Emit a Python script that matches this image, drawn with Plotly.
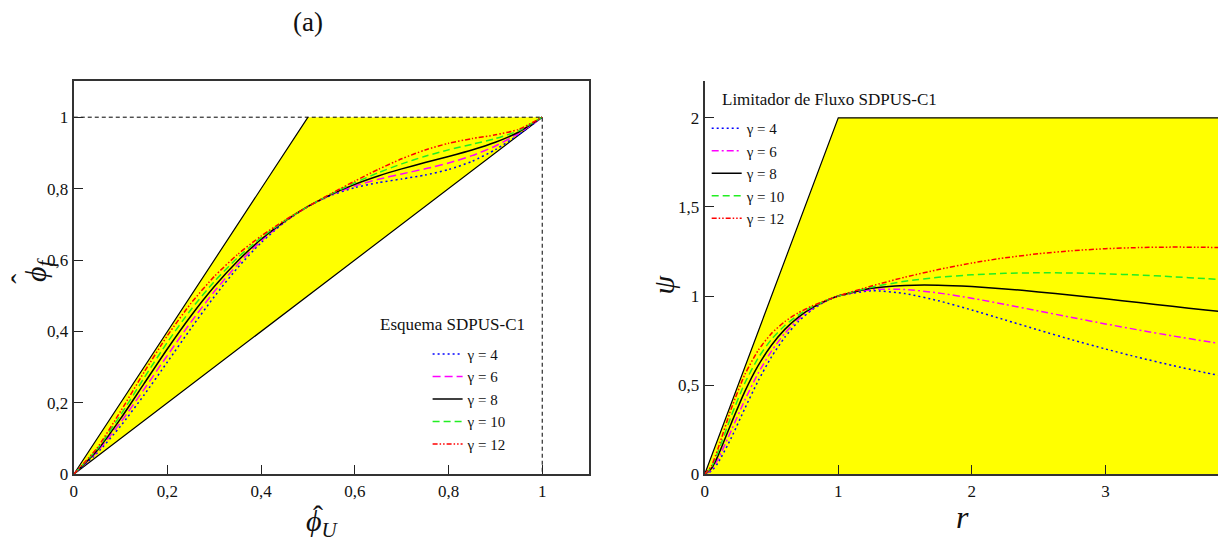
import plotly.graph_objects as go

# ---- Normalized variable diagram (left panel) ----
phi_u = [0.00, 0.05, 0.10, 0.15, 0.20, 0.25, 0.30, 0.35, 0.40, 0.45, 0.50,
         0.55, 0.60, 0.65, 0.70, 0.75, 0.80, 0.85, 0.90, 0.95, 1.00]

phi_f_g4 = [0.0, 0.05943, 0.13499, 0.22185, 0.31469, 0.40820, 0.49757, 0.57876, 0.64883, 0.70604, 0.75,
            0.78155, 0.80275, 0.81666, 0.82701, 0.83789, 0.85325, 0.87634, 0.90907, 0.95131, 1.0]
phi_f_g6 = [0.0, 0.06309, 0.14536, 0.23778, 0.33312, 0.42578, 0.51168, 0.58808, 0.65344, 0.70727, 0.75,
            0.78277, 0.80736, 0.82597, 0.84112, 0.85547, 0.87168, 0.89227, 0.91944, 0.95496, 1.0]
phi_f_g8 = [0.0, 0.06674, 0.15573, 0.25372, 0.35155, 0.44336, 0.52579, 0.59740, 0.65805, 0.70849, 0.75,
            0.78400, 0.81197, 0.83529, 0.85523, 0.87305, 0.89011, 0.90820, 0.92981, 0.95862, 1.0]
phi_f_g10 = [0.0, 0.07040, 0.16610, 0.26965, 0.36998, 0.46094, 0.53990, 0.60671, 0.66266, 0.70972, 0.75,
             0.78522, 0.81658, 0.84460, 0.86934, 0.89063, 0.90854, 0.92413, 0.94018, 0.96227, 1.0]
phi_f_g12 = [0.0, 0.07405, 0.17646, 0.28558, 0.38842, 0.47852, 0.55402, 0.61603, 0.66726, 0.71094, 0.75,
             0.78645, 0.82118, 0.85392, 0.88346, 0.90820, 0.92698, 0.94006, 0.95054, 0.96593, 1.0]

# TVD / CBC admissible region in the NVD plane
nvd_region_x = [0.0, 0.5, 1.0, 0.0]
nvd_region_y = [0.0, 1.0, 1.0, 0.0]

# ---- Flux limiter diagram (right panel) ----
r_vals = [0.0, 0.05, 0.1, 0.2, 0.3, 0.4, 0.5, 0.6, 0.7, 0.8, 0.9, 1.0,
          1.25, 1.5, 1.75, 2.0, 2.25, 2.5, 2.75, 3.0, 3.25, 3.5, 3.75, 4.0]

psi_g4 = [0.0, 0.01802, 0.06458, 0.20576, 0.36844, 0.52359, 0.65844, 0.76904, 0.85586, 0.92127, 0.96830, 1.0,
          1.02965, 1.01376, 0.97361, 0.92181, 0.86564, 0.80919, 0.75464, 0.70313, 0.65512, 0.61075, 0.56993, 0.53248]
psi_g6 = [0.0, 0.02509, 0.08469, 0.24691, 0.41595, 0.56643, 0.69136, 0.79102, 0.86829, 0.92669, 0.96961, 1.0,
          1.03643, 1.03680, 1.01742, 0.98765, 0.95291, 0.91628, 0.87956, 0.84375, 0.80938, 0.77671, 0.74585, 0.71680]
psi_g8 = [0.0, 0.03216, 0.10481, 0.28807, 0.46346, 0.60927, 0.72428, 0.81299, 0.88071, 0.93211, 0.97091, 1.0,
          1.04320, 1.05984, 1.06123, 1.05350, 1.04017, 1.02338, 1.00449, 0.98438, 0.96364, 0.94267, 0.92177, 0.90112]
psi_g10 = [0.0, 0.03923, 0.12493, 0.32922, 0.51097, 0.65211, 0.75720, 0.83496, 0.89313, 0.93753, 0.97222, 1.0,
           1.04998, 1.08288, 1.10504, 1.11934, 1.12743, 1.13048, 1.12941, 1.12500, 1.11790, 1.10864, 1.09770, 1.08544]
psi_g12 = [0.0, 0.04631, 0.14505, 0.37037, 0.55848, 0.69495, 0.79012, 0.85693, 0.90556, 0.94295, 0.97353, 1.0,
           1.05675, 1.10592, 1.14885, 1.18519, 1.21469, 1.23758, 1.25434, 1.26563, 1.27216, 1.27460, 1.27362, 1.26976]

# TVD region in the (r, psi) plane
tvd_region_x = [0.0, 1.0, 4.0, 4.0, 0.0]
tvd_region_y = [0.0, 2.0, 2.0, 0.0, 0.0]

gamma_labels = ["γ = 4", "γ = 6", "γ = 8", "γ = 10", "γ = 12"]
colors = ["#0000ff", "#ff00ff", "#000000", "#22ee22", "#ff0000"]
dash_left = ["2px,3px", "8px,4px", "solid", "7px,4px", "5px,2px,1.5px,2px,1.5px,2px"]
dash_right = ["2px,3px", "7px,3px,2px,3px", "solid", "7px,4px", "5px,2px,1.5px,2px,1.5px,2px"]

SERIF = "Liberation Serif"

fig = go.Figure()

# --- left panel ---
fig.add_trace(go.Scatter(x=nvd_region_x, y=nvd_region_y, fill="toself", fillcolor="#ffff00",
                         mode="none", showlegend=False, hoverinfo="skip", xaxis="x", yaxis="y"))
fig.add_trace(go.Scatter(x=[1.0, 0.0, 0.5], y=[1.0, 0.0, 1.0], mode="lines",
                         line=dict(color="black", width=1.2), showlegend=False,
                         hoverinfo="skip", xaxis="x", yaxis="y"))
fig.add_trace(go.Scatter(x=[0.0, 1.0, 1.0], y=[1.0, 1.0, 0.0], mode="lines",
                         line=dict(color="black", width=1, dash="4px,3px"), showlegend=False,
                         hoverinfo="skip", xaxis="x", yaxis="y"))

left_series = [phi_f_g4, phi_f_g6, phi_f_g8, phi_f_g10, phi_f_g12]
for ys, name, c, d in zip(left_series, gamma_labels, colors, dash_left):
    fig.add_trace(go.Scatter(x=phi_u, y=ys, mode="lines", name=name,
                             line=dict(color=c, width=1.5, dash=d, shape="spline", smoothing=0.6),
                             xaxis="x", yaxis="y", legend="legend"))

# --- right panel ---
fig.add_trace(go.Scatter(x=tvd_region_x, y=tvd_region_y, fill="toself", fillcolor="#ffff00",
                         mode="none", showlegend=False, hoverinfo="skip", xaxis="x2", yaxis="y2"))
fig.add_trace(go.Scatter(x=[0.0, 1.0, 4.0], y=[0.0, 2.0, 2.0], mode="lines",
                         line=dict(color="black", width=1.2), showlegend=False,
                         hoverinfo="skip", xaxis="x2", yaxis="y2"))

right_series = [psi_g4, psi_g6, psi_g8, psi_g10, psi_g12]
for ys, name, c, d in zip(right_series, gamma_labels, colors, dash_right):
    fig.add_trace(go.Scatter(x=r_vals, y=ys, mode="lines", name=name,
                             line=dict(color=c, width=1.5, dash=d, shape="spline", smoothing=0.6),
                             xaxis="x2", yaxis="y2", legend="legend2"))

axis_common = dict(showgrid=False, zeroline=False, ticks="inside", ticklen=9, tickwidth=1,
                   tickcolor="#222", showline=True, linecolor="#333", linewidth=2,
                   tickfont=dict(family=SERIF, size=17, color="#111"))

def label(text, xpx, ypx, size, angle=0):
    return dict(text=text, x=xpx / 1218, y=1 - ypx / 552, xref="paper", yref="paper",
                xanchor="center", yanchor="middle", showarrow=False, textangle=angle,
                font=dict(family=SERIF, size=size, color="#111"))

def legend_title(text, xpx, ypx):
    return dict(text=text, x=xpx / 1218, y=1 - ypx / 552, xref="paper", yref="paper",
                xanchor="left", yanchor="middle", showarrow=False,
                font=dict(family=SERIF, size=17, color="#111"))

fig.update_layout(
    width=1218, height=552,
    margin=dict(l=0, r=0, t=0, b=0),
    paper_bgcolor="white", plot_bgcolor="white",
    separators=",.",
    font=dict(family=SERIF, color="#111"),
    xaxis=dict(domain=[70 / 1218, 587 / 1218], range=[0, 1.1],
               tickvals=[0, 0.2, 0.4, 0.6, 0.8, 1.0], tickformat="~g",
               mirror=True, **axis_common),
    yaxis=dict(domain=[69 / 552, 469 / 552], range=[0, 1.1],
               tickvals=[0, 0.2, 0.4, 0.6, 0.8, 1.0], tickformat="~g",
               mirror=True, **axis_common),
    xaxis2=dict(domain=[703 / 1218, 1.0], range=[0, 3.843], anchor="y2",
                tickvals=[0, 1, 2, 3], tickformat="~g", **axis_common),
    yaxis2=dict(domain=[69 / 552, 469 / 552], range=[0, 2.204], anchor="x2",
                tickvals=[0, 0.5, 1, 1.5, 2], tickformat="~g", **axis_common),
    legend=dict(x=425 / 1218, y=1 - 344 / 552, xanchor="left", yanchor="top",
                bgcolor="rgba(0,0,0,0)", font=dict(family=SERIF, size=15, color="#111"),
                itemwidth=30, tracegroupgap=0),
    legend2=dict(x=705 / 1218, y=1 - 114 / 552, xanchor="left", yanchor="top",
                 bgcolor="rgba(0,0,0,0)", font=dict(family=SERIF, size=15, color="#111"),
                 itemwidth=30, tracegroupgap=0),
    annotations=[
        label("(a)", 305, 22, 27),
        legend_title("Esquema SDPUS-C1", 375, 330),
        legend_title("Limitador de Fluxo SDPUS-C1", 718, 101),
        label("<i>ϕ</i><sub><i>f</i></sub>", 34, 274, 30, -90),
        label("ˆ", 18, 284, 30, -90),
        label("<i>ϕ</i><sub><i>U</i></sub>", 320, 533, 30),
        label("ˆ", 315, 525, 30),
        label("<i>ψ</i>", 662, 290, 30, -90),
        label("<i>r</i>", 962, 527, 32),
    ],
)

fig.write_html("out.html")
